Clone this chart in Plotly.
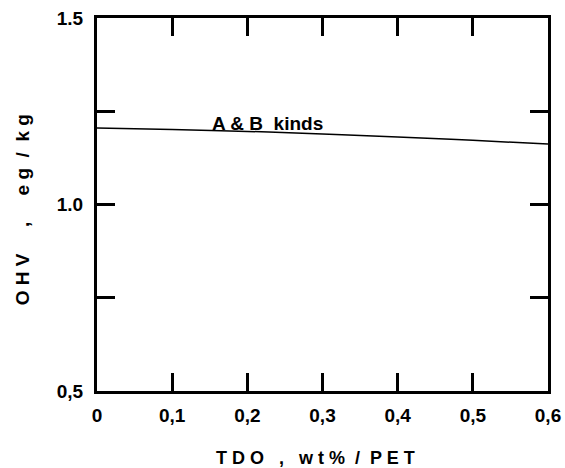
import plotly.graph_objects as go

# Data
tdo = [0.0, 0.1, 0.2, 0.3, 0.4, 0.5, 0.6]
ohv = [1.205, 1.201, 1.196, 1.189, 1.181, 1.172, 1.162]
curve_label = "A &amp; B  kinds"
x_tickvals = [0, 0.1, 0.2, 0.3, 0.4, 0.5, 0.6]
x_ticktext = ["0", "0,1", "0,2", "0,3", "0,4", "0,5", "0,6"]
y_tickvals = [0.5, 0.75, 1.0, 1.25, 1.5]
y_ticktext = ["0,5", "", "1.0", "", "1.5"]
x_title = "T D O   ,   w t %  /  P E T"
y_title = "O H V     ,     e g  /  k g"

FONT = "Liberation Sans, Arial, sans-serif"

fig = go.Figure()
fig.add_trace(go.Scatter(x=tdo, y=ohv, mode="lines",
                         line=dict(color="black", width=1.5, shape="spline"),
                         showlegend=False, hoverinfo="skip"))

fig.add_annotation(x=0.15, y=1.217, text=curve_label, showarrow=False,
                   xanchor="left", yanchor="middle",
                   font=dict(family=FONT, size=19, color="black", weight="bold"))

axis_common = dict(showgrid=False, zeroline=False, showline=True, linecolor="black",
                   linewidth=3, mirror="allticks", ticks="inside", ticklen=18,
                   tickwidth=3, tickcolor="black", automargin=False,
                   tickfont=dict(family=FONT, size=19, color="black", weight="bold"))

fig.update_xaxes(range=[0, 0.6], tickvals=x_tickvals, ticktext=x_ticktext,
                 ticklabelstandoff=5, **axis_common)
fig.update_yaxes(range=[0.5, 1.5], tickvals=y_tickvals, ticktext=y_ticktext,
                 ticklabelstandoff=7, **axis_common)

# axis titles placed as paper annotations
fig.add_annotation(x=0.485, y=-0.18, xref="paper", yref="paper", text=x_title,
                   showarrow=False, xanchor="center", yanchor="middle",
                   font=dict(family=FONT, size=18, color="black", weight="bold"))
fig.add_annotation(x=-0.166, y=0.485, xref="paper", yref="paper", text=y_title,
                   showarrow=False, xanchor="center", yanchor="middle", textangle=-90,
                   font=dict(family=FONT, size=19, color="black", weight="bold"))

fig.update_layout(width=565, height=468, margin=dict(l=97, r=17, t=18, b=77),
                  plot_bgcolor="white", paper_bgcolor="white")

fig.write_html("out.html")
